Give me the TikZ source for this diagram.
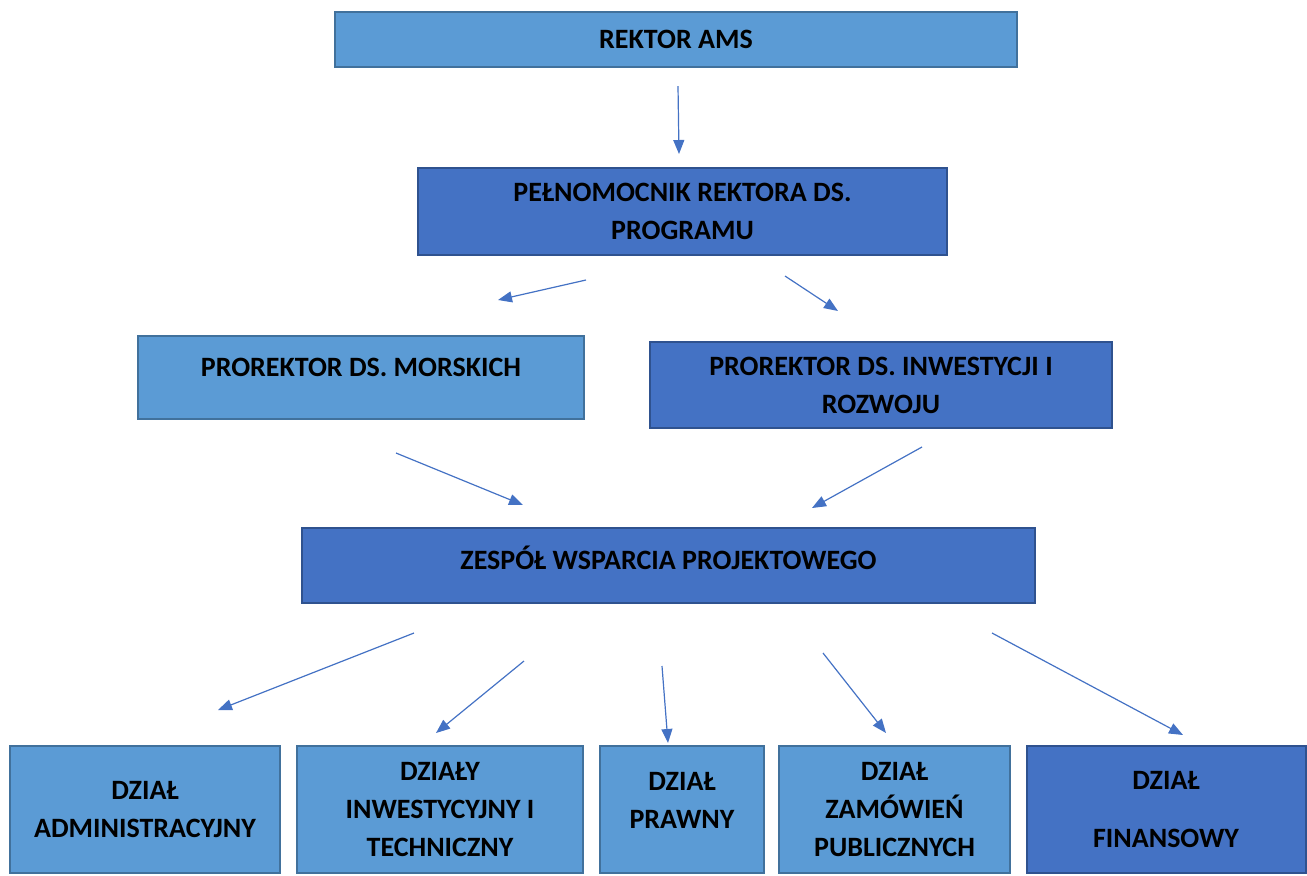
\documentclass[tikz,border=0pt]{standalone}
\usepackage{fontspec}
\setmainfont{Carlito}
\usetikzlibrary{arrows.meta}
\definecolor{lightbox}{HTML}{5B9BD5}
\definecolor{lightedge}{HTML}{41719C}
\definecolor{darkbox}{HTML}{4472C4}
\definecolor{darkedge}{HTML}{2F528F}
\begin{document}
\begin{tikzpicture}
		[x=0.5pt,y=-0.5pt,every node/.style={draw, line width=1pt, align=center, inner sep=0pt, font=\fontsize{14}{19}\selectfont\bfseries},
		lbox/.style={fill=lightbox, draw=lightedge},
		dbox/.style={fill=darkbox, draw=darkedge},
		link/.style={draw=darkbox, line width=0.6pt, -{Triangle[length=7pt,width=5.5pt]}}]
		\useasboundingbox (0,0) rectangle (1307,875);
		% boxes
		\node[lbox, minimum width=341pt, minimum height=27.5pt] (rektor) at (676,39.5) {REKTOR AMS};
		\node[dbox, minimum width=264.5pt, minimum height=43.5pt] (pelnom) at (682.5,211.5) {PEŁNOMOCNIK REKTORA DS.\\PROGRAMU};
		\node[lbox, minimum width=223pt, minimum height=41.5pt, text depth=10pt] (morskie) at (361,377.5) {PROREKTOR DS. MORSKICH};
		\node[dbox, minimum width=231pt, minimum height=43pt] (rozwoj) at (881,385) {PROREKTOR DS. INWESTYCJI I\\ROZWOJU};
		\node[dbox, minimum width=366.5pt, minimum height=37.5pt, text depth=8pt] (zespol) at (668.5,565.5) {ZESPÓŁ WSPARCIA PROJEKTOWEGO};
		\node[lbox, minimum width=135pt, minimum height=63.5pt] (admin) at (145,809.5) {DZIAŁ\\ADMINISTRACYJNY};
		\node[lbox, minimum width=143pt, minimum height=63.5pt] (techn) at (440,809.5) {DZIAŁY\\INWESTYCYJNY I\\TECHNICZNY};
		\node[lbox, minimum width=82pt, minimum height=63.5pt, text depth=9pt] (prawny) at (682,809.5) {DZIAŁ\\PRAWNY};
		\node[lbox, minimum width=115.5pt, minimum height=63.5pt] (zamow) at (894.5,809.5) {DZIAŁ\\ZAMÓWIEŃ\\PUBLICZNYCH};
		\node[dbox, minimum width=139.5pt, minimum height=63.5pt] (finans) at (1166,809.5) {DZIAŁ\\[10pt]FINANSOWY};
		% arrow ends
		\coordinate (s1) at (678,86);   \coordinate (e1) at (679,154);
		\coordinate (s2) at (586,280);  \coordinate (e2) at (498,300);
		\coordinate (s3) at (785,276);  \coordinate (e3) at (838,311);
		\coordinate (s4) at (396,453);  \coordinate (e4) at (523,505);
		\coordinate (s5) at (922,447);  \coordinate (e5) at (812,508);
		\coordinate (s6) at (414,633);  \coordinate (e6) at (218,710);
		\coordinate (s7) at (524,661);  \coordinate (e7) at (436,733);
		\coordinate (s8) at (662,666);  \coordinate (e8) at (668,743);
		\coordinate (s9) at (823,653);  \coordinate (e9) at (886,733);
		\coordinate (s10) at (992,633); \coordinate (e10) at (1183,735);
		\foreach \from/\to in {s1/e1,s2/e2,s3/e3,s4/e4,s5/e5,s6/e6,s7/e7,s8/e8,s9/e9,s10/e10}
		\draw[link]  (\from) -- (\to);
	\end{tikzpicture}
\end{document}
